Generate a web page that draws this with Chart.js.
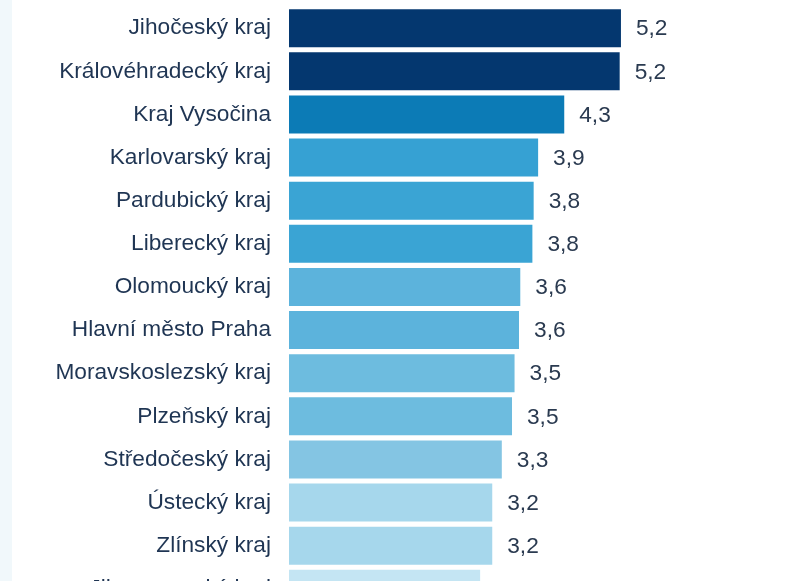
<!DOCTYPE html>
<html>
<head>
<meta charset="utf-8">
<script src="https://cdn.jsdelivr.net/npm/chart.js@4"></script>
<style>
  html, body { margin: 0; padding: 0; overflow: hidden; background: #ffffff; }
  body { width: 790px; height: 581px; position: relative; }
  #strip { position: absolute; left: 0; top: 0; width: 12px; height: 581px; background: #f1f8fb; }
  #wrap { position: absolute; left: 0; top: -25px; width: 790px; height: 667px; }
</style>
</head>
<body>
<div id="strip"></div>
<div id="wrap"><canvas id="chart"></canvas></div>
<script>
// regions, sorted by value
const regions = [
    'Jihočeský kraj', 'Královéhradecký kraj', 'Kraj Vysočina', 'Karlovarský kraj',
    'Pardubický kraj', 'Liberecký kraj', 'Olomoucký kraj', 'Hlavní město Praha',
    'Moravskoslezský kraj', 'Plzeňský kraj', 'Středočeský kraj', 'Ústecký kraj',
    'Zlínský kraj', 'Jihomoravský kraj'
]
const values = [5.21, 5.19, 4.32, 3.91, 3.84, 3.82, 3.63, 3.61, 3.54, 3.50, 3.34, 3.19, 3.19, 3.00]
const barColors = [
    '#04376f', '#04376f', '#0c7bb6', '#36a1d3', '#3aa4d4', '#3aa4d4', '#5cb3dc',
    '#5cb3dc', '#6dbcdf', '#6dbcdf', '#84c5e3', '#a6d7ec', '#a6d7ec', '#c4e5f3'
]

const valueLabels = {
    id: 'valueLabels',
    afterDatasetsDraw(chart) {
        const ctx = chart.ctx
        const meta = chart.getDatasetMeta(0)
        ctx.save()
        ctx.font = '22.7px "Liberation Sans", Arial, sans-serif'
        ctx.fillStyle = '#2a3a50'
        ctx.textAlign = 'left'
        ctx.textBaseline = 'middle'
        meta.data.forEach((bar, i) => {
            const txt = values[i].toFixed(1).replace('.', ',')
            ctx.fillText(txt, bar.x + 15, bar.y + 1)
        })
        ctx.restore()
    }
}

const ctx = document.getElementById('chart').getContext('2d')
const chart = new Chart(ctx, {
    type: 'bar',
    data: {
        labels: regions,
        datasets: [{
            data: values,
            backgroundColor: barColors,
            borderWidth: 0,
            categoryPercentage: 1,
            barPercentage: 0.88,
        }]
    },
    options: {
        indexAxis: 'y',
        responsive: true,
        maintainAspectRatio: false,
        animation: false,
        layout: { padding: { top: 6.4, bottom: 0.8, right: 55, left: 0 } },
        plugins: { legend: { display: false }, tooltip: { enabled: false } },
        scales: {
            x: { display: false, min: 0, max: 7 },
            y: {
                grid: { display: false, drawTicks: false },
                border: { display: false },
                ticks: {
                    padding: 18,
                    color: '#1f3553',
                    font: { family: '"Liberation Sans", Arial, sans-serif', size: 22.7 }
                },
                afterFit(scale) { scale.width = 289 }
            }
        }
    },
    plugins: [valueLabels]
})
</script>
</body>
</html>
